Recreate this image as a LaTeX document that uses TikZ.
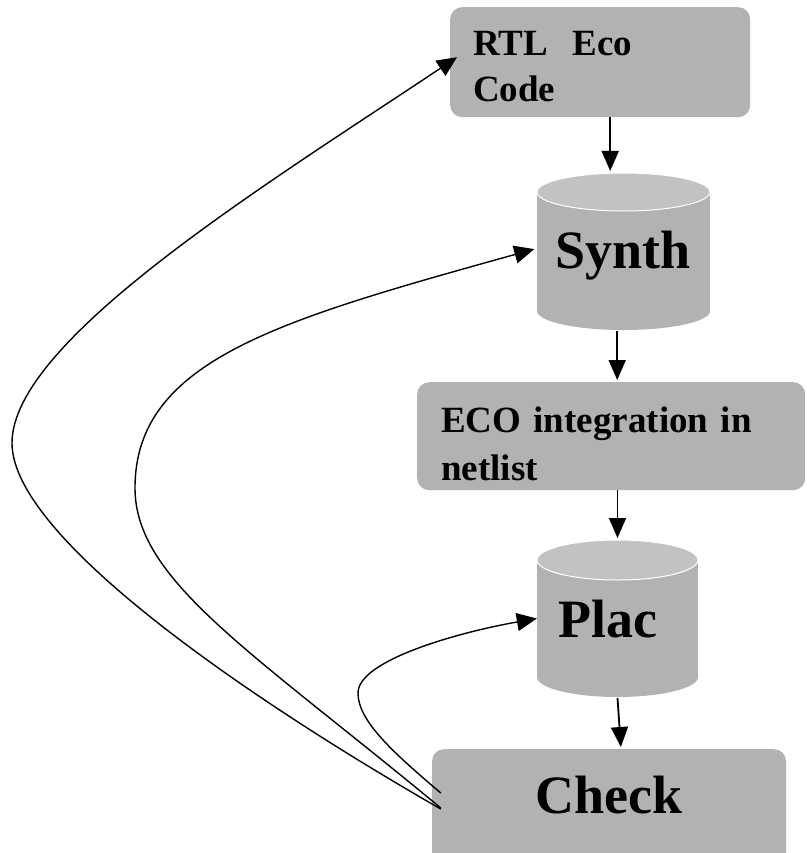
\documentclass[tikz,border=0pt]{standalone}
\usepackage{fontspec}
\setmainfont{Liberation Serif}
\usetikzlibrary{arrows.meta,calc,positioning}
\definecolor{boxgray}{gray}{0.7}
\definecolor{topgray}{gray}{0.76}

\begin{document}
\begin{tikzpicture}[x=1pt,y=-1pt,
    stepbox/.style={fill=boxgray,rounded corners=12pt,inner ysep=0pt},
    smallfont/.style={font=\fontsize{37}{46}\selectfont\bfseries},
    bigfont/.style={font=\fontsize{54}{60}\selectfont\bfseries},
    drumtext/.style={bigfont,inner xsep=21pt,inner ysep=0pt,anchor=base},
    flow/.style={line width=1.8pt,shorten >=2pt,-{Triangle[length=20pt,width=17pt]}},
    loopback/.style={line width=1.4pt,-{Triangle[length=20pt,width=18pt]}}]

\useasboundingbox (0,0) rectangle (806,853);
\clip (0,0) rectangle (806,853);

% the two boxes with text on the left
\node[stepbox,smallfont,anchor=north west,inner xsep=23pt,text width=254pt,
      align=left,text height=48pt,text depth=62pt] (rtl) at (450,7)
      {RTL\ \ Eco\\Code};
\node[stepbox,smallfont,anchor=north west,inner xsep=24pt,text width=340pt,
      align=left,text height=50pt,text depth=58pt,
      font=\fontsize{37}{48}\selectfont\bfseries] (eco) at (417,382)
      {ECO integration in\\netlist};

% the check box, cut off by the bottom edge
\node[stepbox,bigfont,anchor=north,minimum width=354pt,inner ysep=27pt,
      text height=37pt,text depth=40pt] (check) at (609,749) {Check};

% Synth drum
\fill[boxgray] (537,192) rectangle (710,311);
\fill[boxgray] (623.5,311) ellipse [x radius=86.5, y radius=19];
\draw[white,line width=1pt,fill=topgray] (623.5,192) ellipse [x radius=86.5, y radius=19];
\coordinate (synthtop) at (623.5,173);
\coordinate (synthbot) at (623.5,331);
\node[drumtext] (synth) at (623,268) {Synth};

% Plac drum
\fill[boxgray] (537,560) rectangle (698,677);
\fill[boxgray] (617.5,677) ellipse [x radius=80.5, y radius=20];
\draw[white,line width=1pt,fill=topgray] (617.5,560) ellipse [x radius=80.5, y radius=20];
\coordinate (plactop) at (617.5,540);
\coordinate (placbot) at (617.5,698);
\node[drumtext] (plac) at (607.5,637) {Plac};

% down the flow
\draw[flow] ([xshift=10pt]rtl.south) -- ([xshift=10pt]rtl.south |- synthtop);
\draw[flow] ([xshift=6pt]eco.north |- synthbot) -- ([xshift=6pt]eco.north);
\draw[flow] (eco.south -| plactop) -- (plactop);
\draw[flow] (placbot) -- ([xshift=12pt]check.north);

% loops back from the check
\draw[loopback] ([shift={(9,60)}]check.north west)
    .. controls (261,706) and (12,540) .. (12,443)
    .. controls (12,340) and (267,184) .. ([shift={(7,-5)}]rtl.west);
\draw[loopback] ([shift={(9,59)}]check.north west)
    .. controls (250,650) and (135,580) .. (135,488)
    .. controls (135,360) and (280,320) .. ([shift={(0,-6)}]synth.west);
\draw[loopback] ([shift={(9,44)}]check.north west)
    .. controls (390,750) and (358,720) .. (358,693)
    .. controls (358,660) and (460,632) .. (plac.west);
\end{tikzpicture}
\end{document}
